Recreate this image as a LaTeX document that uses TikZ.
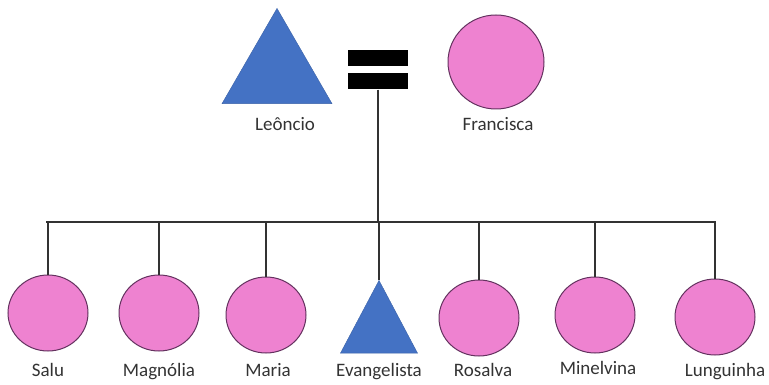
\documentclass[tikz,border=0pt]{standalone}
\usepackage{fontspec}
\setmainfont{Carlito}
\usetikzlibrary{shapes,shapes.geometric,calc,positioning}
\definecolor{male}{RGB}{68,114,196}
\definecolor{female}{RGB}{238,130,208}
\definecolor{femedge}{RGB}{100,50,95}
\definecolor{wire}{RGB}{50,50,50}
\tikzset{man/.style={regular polygon, regular polygon sides=3, fill=male, draw=male!85!black, line width=0.4pt, inner sep=0pt, anchor=corner 1}}
\tikzset{woman/.style={ellipse, fill=female, draw=femedge, line width=1pt, inner sep=0pt, minimum width=80pt, minimum height=76pt}}
\tikzstyle{lbl}=[text=black!80, font=\fontsize{19}{21}\selectfont, inner sep=0pt, anchor=base]
\tikzstyle{bar}=[rectangle, fill=black, inner sep=0pt, minimum width=60pt, minimum height=16pt]

\begin{document}
\begin{tikzpicture}[x=1pt, y=-1pt, line width=1.5pt]
\useasboundingbox (0,0) rectangle (769,385);
% parents
\node[man, minimum size=127pt] (leoncio) at (277,8) {};
\node[woman, minimum width=96pt, minimum height=94pt] (francisca) at (496,62) {};
\node[bar] (eqtop) at (378,58) {};
\node[bar] (eqbot) at (378,81) {};
\node[lbl] (leonciolbl) at (285,131) {Leôncio};
\node[lbl] (franciscalbl) at (498,131) {Francisca};
% children
\node[woman] (salu) at (48,313) {};
\node[woman] (magnolia) at (159,313) {};
\node[woman] (maria) at (266,315) {};
\node[man, minimum size=89pt, yscale=1.09] (evangelista) at (379,280) {};
\node[woman] (rosalva) at (479,318) {};
\node[woman] (minelvina) at (595,315) {};
\node[woman] (lunguinha) at (715,317) {};
\node[lbl] (salulbl) at (48,376) {Salu};
\node[lbl] (magnolialbl) at (159,376) {Magnólia};
\node[lbl] (marialbl) at (268,376) {Maria};
\node[lbl] (evangelistalbl) at (379,376) {Evangelista};
\node[lbl] (rosalvalbl) at (483,376) {Rosalva};
\node[lbl] (minelvinalbl) at (598,374) {Minelvina};
\node[lbl] (lunguinhalbl) at (725,376) {Lunguinha};
% lines
\coordinate (hleft) at (46,222);
\coordinate (hright) at (716,222);
\draw[wire, line width=1.5pt] (hleft) -- (hright);
\draw[wire] (eqbot.south) -- (eqbot.south |- hleft);
\foreach \kid in {salu,magnolia,maria,evangelista,rosalva,minelvina,lunguinha}
  \draw[wire] (\kid.north) -- (\kid.north |- hleft);
\end{tikzpicture}
\end{document}
